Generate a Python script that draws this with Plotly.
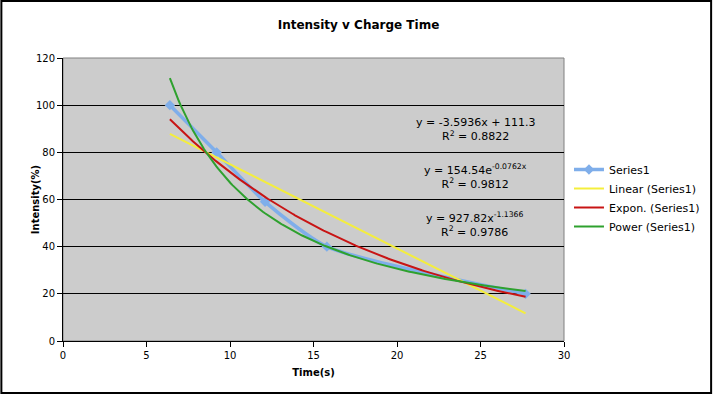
import numpy as np
import plotly.graph_objects as go

# Data
time_s = [6.4, 9.2, 12.1, 15.8, 27.7]
intensity = [100, 80, 59, 40, 20]
x_ticks = [0, 5, 10, 15, 20, 25, 30]
y_ticks = [0, 20, 40, 60, 80, 100, 120]

x = np.array(time_s, dtype=float)
y = np.array(intensity, dtype=float)

# Trendlines fitted from the data
lin = np.polyfit(x, y, 1)
exp_b, exp_ln_a = np.polyfit(x, np.log(y), 1)
pow_b, pow_ln_a = np.polyfit(np.log(x), np.log(y), 1)
xs = np.linspace(x.min(), x.max(), 200)
y_lin = np.polyval(lin, xs)
y_exp = np.exp(exp_ln_a) * np.exp(exp_b * xs)
y_pow = np.exp(pow_ln_a) * xs ** pow_b

FONT = "DejaVu Sans"

fig = go.Figure()
fig.add_trace(go.Scatter(x=time_s, y=intensity, name="Series1", mode="lines+markers",
                         line=dict(color="#7FAEEA", width=3.5, shape="spline", smoothing=0.6),
                         marker=dict(symbol="diamond", size=8, color="#7FAEEA")))
fig.add_trace(go.Scatter(x=xs, y=y_lin, name="Linear (Series1)", mode="lines",
                         line=dict(color="#F4EE3C", width=2)))
fig.add_trace(go.Scatter(x=xs, y=y_exp, name="Expon. (Series1)", mode="lines",
                         line=dict(color="#C81414", width=2)))
fig.add_trace(go.Scatter(x=xs, y=y_pow, name="Power (Series1)", mode="lines",
                         line=dict(color="#2EA12E", width=2)))

eqs = [
    ("y = -3.5936x + 111.3<br>R<sup>2</sup> = 0.8822", 89.7),
    ("y = 154.54e<sup>-0.0762x</sup><br>R<sup>2</sup> = 0.9812", 69.8),
    ("y = 927.82x<sup>-1.1366</sup><br>R<sup>2</sup> = 0.9786", 49.4),
]
for txt, yy in eqs:
    fig.add_annotation(x=24.7, y=yy, text=txt, showarrow=False, xref="x", yref="y",
                       font=dict(family=FONT, size=11, color="black"), align="center")

W, H = 717, 395
L, R, T, B = 63, 150, 58, 54
pw, ph = W - L - R, H - T - B
def px(p):
    return (p - L) / pw
def py(p):
    return (H - B - p) / ph

# y-axis title as rotated annotation (sits close to the tick labels as in the reference)
fig.add_annotation(x=px(35), y=py(200), xref="paper", yref="paper", text="<b>Intensity(%)</b>",
                   textangle=-90, showarrow=False, xanchor="center", yanchor="middle",
                   font=dict(family=FONT, size=10, color="black"))

fig.add_shape(type="rect", xref="paper", yref="paper",
              x0=px(1), x1=px(715), y0=py(393), y1=py(1),
              line=dict(color="black", width=2), fillcolor="rgba(0,0,0,0)", layer="below")

fig.update_layout(
    width=W, height=H,
    margin=dict(l=L, r=R, t=T, b=B),
    paper_bgcolor="white",
    plot_bgcolor="#CCCCCC",
    font=dict(family=FONT, size=10, color="black"),
    title=dict(text="<b>Intensity v Charge Time</b>", x=0.5, xanchor="center",
               y=1 - 25 / H, yanchor="middle", font=dict(family=FONT, size=12)),
    xaxis=dict(range=[0, 30], tickvals=x_ticks, showgrid=False, zeroline=False,
               showline=True, linecolor="black", linewidth=1, mirror=False,
               ticks="outside", ticklen=5, tickcolor="black",
               title=dict(text="<b>Time(s)</b>", standoff=8, font=dict(size=10))),
    yaxis=dict(range=[0, 120], tickvals=y_ticks, showgrid=True, gridcolor="black",
               gridwidth=1, zeroline=False, showline=True, linecolor="black", linewidth=1,
               ticks="outside", ticklen=5, tickcolor="black"),
    legend=dict(x=px(572), y=py(155), xanchor="left", yanchor="top",
                font=dict(family=FONT, size=11), bgcolor="rgba(0,0,0,0)",
                tracegroupgap=0, itemwidth=30),
    showlegend=True,
)
# plot area border on top/right
fig.add_shape(type="rect", xref="paper", yref="paper", x0=0, x1=1, y0=0, y1=1,
              line=dict(color="#808080", width=1), layer="below")

fig.write_html("out.html", config={"displayModeBar": False},
               post_script="document.body.style.margin='0px';")
